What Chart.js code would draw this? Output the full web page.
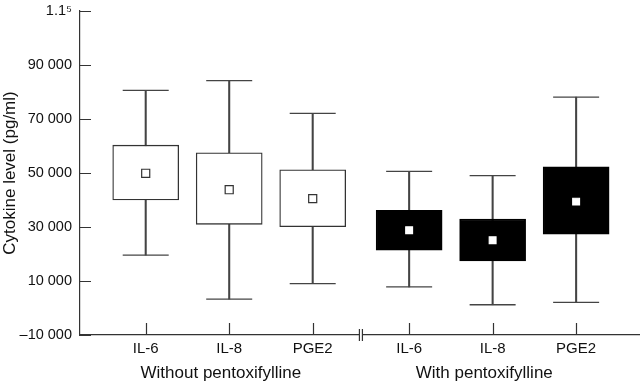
<!DOCTYPE html>
<html lang="en">
<head>
  <meta charset="UTF-8">
  <title>Cytokine level</title>
  <script src="https://cdn.jsdelivr.net/npm/chart.js"></script>
  <style>
    body {
      margin: 0;
      background: #fff;
    }
    .chart-box {
      width: 640px;
      height: 384px;
    }
  </style>
</head>
<body>

  <div class="chart-box">
    <canvas id="cytokineChart"></canvas>
  </div>

  <script>
    // values
    const categories = ['IL-6', 'IL-8', 'PGE2', 'IL-6', 'IL-8', 'PGE2'];
    const groups = ['Without pentoxifylline', 'With pentoxifylline'];
    const groupOf = [0, 0, 0, 1, 1, 1];
    const positions = [1, 2, 3, 4.155, 5.155, 6.155];
    const whiskerLow = [19600, 3300, 9000, 7800, 1200, 2100];
    const boxLow = [40000, 31000, 30100, 21400, 17400, 27300];
    const boxHigh = [60300, 57500, 51200, 36200, 32900, 52300];
    const whiskerHigh = [80600, 84200, 72100, 50600, 49000, 78100];
    const means = [49900, 43800, 40500, 28800, 25100, 39400];
    const yTicks = [-10000, 10000, 30000, 50000, 70000, 90000, 110000];
    const yTickLabels = ['–10 000', '10 000', '30 000', '50 000', '70 000', '90 000', '1.1⁵'];

    const FONT = "'Liberation Sans', Arial, Helvetica, sans-serif";
    const INK = '#111';
    const LINE = '#444';

    const dark = groupOf.map(g => g === 1);

    // tick marks drawn inward, group captions and the axis break
    const axisMarks = {
      id: 'axisMarks',
      afterDraw(chart) {
        const ctx = chart.ctx;
        const area = chart.chartArea;
        const x = chart.scales.x;
        const y = chart.scales.y;
        ctx.save();
        ctx.strokeStyle = '#333';
        ctx.lineWidth = 1.2;
        ctx.beginPath();
        yTicks.forEach(v => {
          const py = Math.round(y.getPixelForValue(v)) + 0.5;
          ctx.moveTo(area.left, py);
          ctx.lineTo(area.left + 11, py);
        });
        positions.forEach(v => {
          const px = Math.round(x.getPixelForValue(v)) + 0.5;
          ctx.moveTo(px, area.bottom);
          ctx.lineTo(px, area.bottom - 12);
        });
        ctx.stroke();

        // axis break between the two groups
        const bx = x.getPixelForValue((positions[2] + positions[3]) / 2);
        ctx.fillStyle = '#fff';
        ctx.fillRect(bx - 1.2, area.bottom - 2, 2.4, 4);
        ctx.beginPath();
        ctx.moveTo(bx - 1.5, area.bottom - 6);
        ctx.lineTo(bx - 1.5, area.bottom + 6);
        ctx.moveTo(bx + 1.5, area.bottom - 6);
        ctx.lineTo(bx + 1.5, area.bottom + 6);
        ctx.stroke();

        // group captions
        ctx.fillStyle = INK;
        ctx.font = '17px ' + FONT;
        ctx.textAlign = 'center';
        ctx.textBaseline = 'middle';
        groups.forEach((name, g) => {
          const members = positions.filter((p, i) => groupOf[i] === g);
          const mid = (members[0] + members[members.length - 1]) / 2 - 0.1;
          ctx.fillText(name, x.getPixelForValue(mid), 373);
        });
        ctx.restore();
      }
    };

    const ctx = document.getElementById('cytokineChart').getContext('2d');
    new Chart(ctx, {
      type: 'bar',
      data: {
        datasets: [
          {
            label: 'whisker',
            data: positions.map((p, i) => ({ x: p, y: [whiskerLow[i], whiskerHigh[i]] })),
            backgroundColor: LINE,
            borderWidth: 0,
            barThickness: 1.4,
            grouped: false,
            order: 3
          },
          {
            label: 'box',
            data: positions.map((p, i) => ({ x: p, y: [boxLow[i], boxHigh[i]] })),
            backgroundColor: dark.map(d => d ? '#000' : '#fff'),
            borderColor: dark.map(d => d ? '#000' : '#333'),
            borderWidth: 1.3,
            borderSkipped: false,
            barThickness: 66,
            grouped: false,
            order: 2
          },
          {
            type: 'line',
            label: 'upper cap',
            data: positions.map((p, i) => ({ x: p, y: whiskerHigh[i] })),
            showLine: false,
            pointStyle: 'line',
            pointRadius: 23,
            pointBorderColor: LINE,
            pointBorderWidth: 1.3,
            order: 1
          },
          {
            type: 'line',
            label: 'lower cap',
            data: positions.map((p, i) => ({ x: p, y: whiskerLow[i] })),
            showLine: false,
            pointStyle: 'line',
            pointRadius: 23,
            pointBorderColor: LINE,
            pointBorderWidth: 1.3,
            order: 1
          },
          {
            type: 'line',
            label: 'mean',
            data: positions.map((p, i) => ({ x: p, y: means[i] })),
            showLine: false,
            pointStyle: 'rect',
            pointRadius: dark.map(d => d ? 4.8 : 5.7),
            pointBackgroundColor: '#fff',
            pointBorderColor: dark.map(d => d ? '#fff' : '#333'),
            pointBorderWidth: 1.2,
            order: 0
          }
        ]
      },
      options: {
        responsive: true,
        maintainAspectRatio: false,
        animation: false,
        layout: { autoPadding: false, padding: { top: 11, right: 0, left: 0, bottom: 0 } },
        plugins: {
          legend: { display: false },
          tooltip: { enabled: false }
        },
        scales: {
          x: {
            type: 'linear',
            offset: false,
            min: 0.213,
            max: 6.92,
            afterBuildTicks: axis => { axis.ticks = positions.map(v => ({ value: v })); },
            afterFit: axis => { axis.height = 49; },
            ticks: {
              autoSkip: false,
              maxRotation: 0,
              padding: 5,
              color: INK,
              font: { family: FONT, size: 15 },
              callback: (value, index) => categories[index]
            },
            grid: { display: true, offset: false, drawOnChartArea: false, drawTicks: false, color: 'rgba(0,0,0,0)' },
            border: { display: true, color: '#333', width: 1.2 }
          },
          y: {
            min: -10000,
            max: 110000,
            afterBuildTicks: axis => { axis.ticks = yTicks.map(v => ({ value: v })); },
            afterFit: axis => {
              axis.width = 80;
              axis.paddingTop = 0;
              axis.paddingBottom = 0;
            },
            ticks: {
              padding: 8,
              color: INK,
              font: { family: FONT, size: 14.5 },
              callback: (value, index) => yTickLabels[index]
            },
            title: {
              display: true,
              text: 'Cytokine level (pg/ml)',
              color: INK,
              font: { family: FONT, size: 17 },
              padding: 0
            },
            grid: { display: true, drawOnChartArea: false, drawTicks: false, color: 'rgba(0,0,0,0)' },
            border: { display: true, color: '#333', width: 1.2 }
          }
        }
      },
      plugins: [axisMarks]
    });
  </script>

</body>
</html>
